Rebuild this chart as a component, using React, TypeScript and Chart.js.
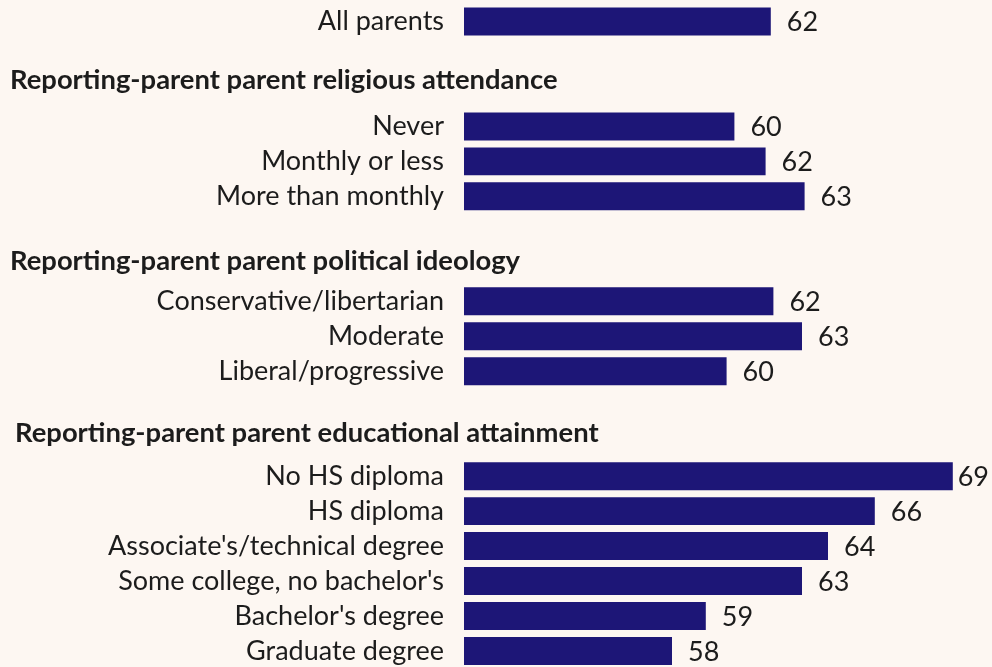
import React, { useEffect, useRef } from "react";
import { Chart, registerables } from "chart.js";

Chart.register(...registerables);

const overallLabels = ["All parents"];
const overallValues = [61.8];

const religionHeader = "Reporting-parent parent religious attendance";
const religionLabels = ["Never", "Monthly or less", "More than monthly"];
const religionValues = [60.4, 61.6, 63.1];

const politicsHeader = "Reporting-parent parent political ideology";
const politicsLabels = ["Conservative/libertarian", "Moderate", "Liberal/progressive"];
const politicsValues = [61.9, 63.0, 60.1];

const educationHeader = "Reporting-parent parent educational attainment";
const educationLabels = [
  "No HS diploma",
  "HS diploma",
  "Associate's/technical degree",
  "Some college, no bachelor's",
  "Bachelor's degree",
  "Graduate degree",
];
const educationValues = [68.8, 65.8, 64.0, 63.0, 59.3, 58.0];

const groups = [
  { header: religionHeader, labels: religionLabels, values: religionValues },
  { header: politicsHeader, labels: politicsLabels, values: politicsValues },
  { header: educationHeader, labels: educationLabels, values: educationValues },
];

const BG = "#fdf7f2";
const BAR = "#1d1677";
const TEXT = "#1c1c1c";
const FONT = "Lato";
const HEADER_X = [10, 10, 15];
const HEADER_DY = [-11, -5, -8];

export default function App() {
  const ref = useRef<HTMLCanvasElement | null>(null);

  useEffect(() => {
    const rowLabels: string[] = [];
    const rowValues: (number | null)[] = [];
    const headerRows: { index: number; text: string }[] = [];

    overallLabels.forEach((l, i) => {
      rowLabels.push(l);
      rowValues.push(overallValues[i]);
    });
    groups.forEach((g) => {
      rowLabels.push("");
      rowValues.push(null);
      headerRows.push({ index: rowLabels.length, text: g.header });
      rowLabels.push("");
      rowValues.push(null);
      g.labels.forEach((l, i) => {
        rowLabels.push(l);
        rowValues.push(g.values[i]);
      });
    });

    const bgPlugin = {
      id: "bg",
      beforeDraw(chart: any) {
        const c = chart.ctx;
        c.save();
        c.fillStyle = BG;
        c.fillRect(0, 0, chart.width, chart.height);
        c.restore();
      },
    };

    const headerPlugin = {
      id: "headers",
      afterDraw(chart: any) {
        const c = chart.ctx;
        const y = chart.scales.y;
        c.save();
        c.font = `bold 27.4px ${FONT}`;
        c.fillStyle = TEXT;
        c.textAlign = "left";
        c.textBaseline = "middle";
        headerRows.forEach((h, i) => {
          c.fillText(h.text, HEADER_X[i], y.getPixelForValue(h.index) + HEADER_DY[i]);
        });
        c.restore();
      },
    };

    const valuePlugin = {
      id: "values",
      afterDatasetsDraw(chart: any) {
        const c = chart.ctx;
        const meta = chart.getDatasetMeta(0);
        c.save();
        c.font = `27px ${FONT}`;
        c.fillStyle = TEXT;
        c.textAlign = "left";
        c.textBaseline = "middle";
        meta.data.forEach((el: any, i: number) => {
          const v = rowValues[i];
          if (v == null) return;
          const txt = String(Math.round(v));
          const w = c.measureText(txt).width;
          const x = Math.min(el.x + 16, 992 - 3 - w);
          c.fillText(txt, x, el.y + 1);
        });
        c.restore();
      },
    };

    const chart = new Chart(ref.current as HTMLCanvasElement, {
      type: "bar",
      data: {
        labels: rowLabels,
        datasets: [
          {
            data: rowValues,
            backgroundColor: BAR,
            borderWidth: 0,
            barPercentage: 1,
            categoryPercentage: 0.8,
          },
        ],
      },
      options: {
        indexAxis: "y",
        animation: false,
        responsive: false,
        maintainAspectRatio: false,
        layout: { padding: { top: 4, bottom: 1.5, left: 0, right: 8 } },
        plugins: {
          legend: { display: false },
          tooltip: { enabled: false },
        },
        scales: {
          x: {
            display: false,
            min: 50,
            max: 70,
          },
          y: {
            grid: { display: false, drawTicks: false },
            border: { display: false },
            ticks: {
              autoSkip: false,
              padding: 20,
              color: TEXT,
              font: { family: FONT, size: 27 },
            },
            afterFit(scale: any) {
              scale.width = 464;
              scale.paddingTop = 0;
              scale.paddingBottom = 0;
            },
          },
        },
      },
      plugins: [bgPlugin, headerPlugin, valuePlugin],
    });
    return () => chart.destroy();
  }, []);

  return (
    <div
      style={{
        position: "fixed",
        left: 0,
        top: 0,
        width: 992,
        height: 670,
        background: BG,
      }}
    >
      <canvas ref={ref} width={992} height={670} style={{ display: "block" }} />
    </div>
  );
}
